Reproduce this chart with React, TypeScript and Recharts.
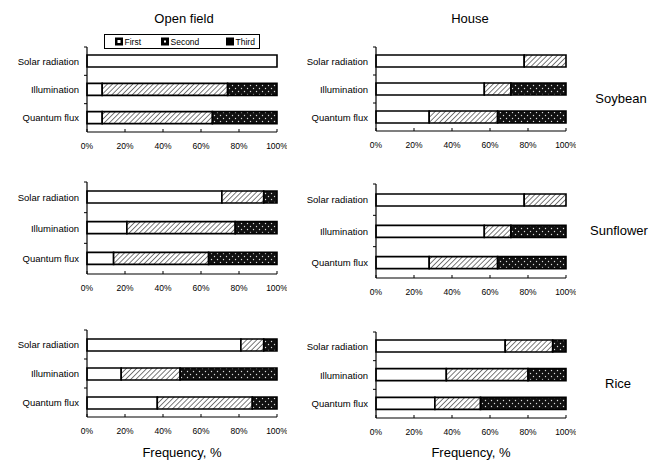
import React from "react";
import { BarChart, Bar, XAxis, YAxis, Legend } from "recharts";

const categories = ["Solar radiation", "Illumination", "Quantum flux"];
const xTicks = [0, 20, 40, 60, 80, 100];
const seriesNames = ["First", "Second", "Third"];

const soybeanOpenFirst = [100, 8, 8];
const soybeanOpenSecond = [0, 66, 58];
const soybeanOpenThird = [0, 26, 34];

const soybeanHouseFirst = [78, 57, 28];
const soybeanHouseSecond = [22, 14, 36];
const soybeanHouseThird = [0, 29, 36];

const sunflowerOpenFirst = [71, 21, 14];
const sunflowerOpenSecond = [22, 57, 50];
const sunflowerOpenThird = [7, 22, 36];

const sunflowerHouseFirst = [78, 57, 28];
const sunflowerHouseSecond = [22, 14, 36];
const sunflowerHouseThird = [0, 29, 36];

const riceOpenFirst = [81, 18, 37];
const riceOpenSecond = [12, 31, 50];
const riceOpenThird = [7, 51, 13];

const riceHouseFirst = [68, 37, 31];
const riceHouseSecond = [25, 43, 24];
const riceHouseThird = [7, 20, 45];

const FONT = "'Liberation Sans', Arial, sans-serif";

const build = (first: number[], second: number[], third: number[]) =>
  categories.map((name, i) => ({
    name,
    first: first[i],
    second: second[i],
    third: third[i],
  }));

function XTick(props: any) {
  const { x, y, payload } = props;
  return (
    <g>
      <line x1={x} x2={x} y1={y} y2={y - 3} stroke="#000" strokeWidth={1} />
      <text
        x={x}
        y={y + 13.5}
        textAnchor="middle"
        dominantBaseline="central"
        fontSize={8.5}
        fontFamily={FONT}
        fill="#000"
      >
        {payload.value}%
      </text>
    </g>
  );
}

function CatTick(props: any) {
  const { x, y, payload, band } = props;
  const ax = x + 8;
  return (
    <g>
      <line x1={ax} x2={ax - 3} y1={y - band / 2} y2={y - band / 2} stroke="#000" strokeWidth={1} />
      <text
        x={x}
        y={y}
        textAnchor="end"
        dominantBaseline="central"
        fontSize={9.5}
        fontFamily={FONT}
        fill="#000"
      >
        {payload.value}
      </text>
    </g>
  );
}

function LegendIcon({ kind }: { kind: string }) {
  if (kind === "first")
    return (
      <g>
        <rect x={0} y={0} width={8} height={8} fill="#000" />
        <rect x={2.5} y={2.5} width={3} height={3} fill="#fff" />
      </g>
    );
  if (kind === "second")
    return (
      <g>
        <rect x={0} y={0} width={8} height={8} fill="#000" />
        <rect x={3} y={3} width={2} height={2} fill="#fff" />
      </g>
    );
  return <rect x={0} y={0} width={8} height={8} fill="#000" />;
}

function renderLegend(props: any) {
  const { payload } = props;
  const offsets = [11, 57, 122];
  return (
    <svg width={156} height={15} style={{ display: "block" }}>
      <rect x={0.5} y={0.5} width={155} height={14} fill="#fff" stroke="#000" strokeWidth={1} />
      {(payload || []).map((entry: any, i: number) => (
        <g key={entry.value} transform={`translate(${offsets[i]},3.5)`}>
          <LegendIcon kind={entry.dataKey} />
          <text x={9.5} y={4.5} dominantBaseline="central" fontSize={8.5} fontFamily={FONT} fill="#000">
            {entry.value}
          </text>
        </g>
      ))}
    </svg>
  );
}

type PanelProps = {
  data: any[];
  left: number;
  top: number;
  bottom: number;
  legend?: boolean;
};

function Panel({ data, left, top, bottom, legend }: PanelProps) {
  const mTop = 14;
  const plotH = bottom - top;
  const band = plotH / 3;
  const height = mTop + plotH + 26;
  const chartTop = top - mTop;
  return (
    <div style={{ position: "absolute", left, top: chartTop }}>
      <BarChart
        width={287}
        height={height}
        data={data}
        layout="vertical"
        margin={{ top: mTop, right: 10, left: 0, bottom: 0 }}
        barSize={12}
      >
        <XAxis
          type="number"
          domain={[0, 100]}
          ticks={xTicks}
          height={26}
          tickLine={false}
          tickSize={0}
          tickMargin={0}
          axisLine={{ stroke: "#000", strokeWidth: 1.2 }}
          tick={<XTick />}
          interval={0}
        />
        <YAxis
          type="category"
          dataKey="name"
          width={87}
          tickLine={false}
          tickSize={0}
          tickMargin={8}
          axisLine={{ stroke: "#000", strokeWidth: 1.2 }}
          tick={<CatTick band={band} />}
          interval={0}
        />
        {legend && (
          <Legend
            layout="horizontal"
            verticalAlign="middle"
            content={renderLegend}
            wrapperStyle={{ left: 104, top: 34 - chartTop, width: 156, height: 15 }}
          />
        )}
        <Bar dataKey="first" name={seriesNames[0]} stackId="s" fill="#fff" stroke="#000" strokeWidth={1.6} isAnimationActive={false} />
        <Bar dataKey="second" name={seriesNames[1]} stackId="s" fill="url(#hatch)" stroke="#000" strokeWidth={1.6} isAnimationActive={false} />
        <Bar dataKey="third" name={seriesNames[2]} stackId="s" fill="url(#dots)" stroke="#000" strokeWidth={1.6} isAnimationActive={false} />
      </BarChart>
    </div>
  );
}

function Label({ x, y, size, children }: { x: number; y: number; size: number; children: React.ReactNode }) {
  return (
    <div
      style={{
        position: "absolute",
        left: x,
        top: y,
        transform: "translate(-50%, -50%)",
        fontSize: size,
        fontFamily: FONT,
        whiteSpace: "nowrap",
        color: "#000",
      }}
    >
      {children}
    </div>
  );
}

export default function App() {
  return (
    <div
      style={{
        position: "absolute",
        left: 0,
        top: 0,
        width: 661,
        height: 462,
        background: "#fff",
        overflow: "hidden",
      }}
    >
      <svg width={0} height={0} style={{ position: "absolute" }}>
        <defs>
          <pattern id="hatch" width={3.6} height={3.6} patternUnits="userSpaceOnUse" patternTransform="rotate(45)">
            <rect width={3.6} height={3.6} fill="#fff" />
            <line x1={0} y1={0} x2={0} y2={3.6} stroke="#333" strokeWidth={1.3} />
          </pattern>
          <pattern id="dots" width={6} height={6} patternUnits="userSpaceOnUse">
            <rect width={6} height={6} fill="#111" />
            <circle cx={1.5} cy={1.5} r={0.7} fill="#ddd" />
            <circle cx={4.5} cy={4.5} r={0.7} fill="#ddd" />
          </pattern>
        </defs>
      </svg>

      <Label x={184} y={18} size={13}>Open field</Label>
      <Label x={470} y={18} size={13}>House</Label>

      <Panel data={build(soybeanOpenFirst, soybeanOpenSecond, soybeanOpenThird)} left={0} top={47} bottom={132} legend />
      <Panel data={build(soybeanHouseFirst, soybeanHouseSecond, soybeanHouseThird)} left={289} top={47} bottom={131} />

      <Panel data={build(sunflowerOpenFirst, sunflowerOpenSecond, sunflowerOpenThird)} left={0} top={182} bottom={274} />
      <Panel data={build(sunflowerHouseFirst, sunflowerHouseSecond, sunflowerHouseThird)} left={289} top={184} bottom={278} />

      <Panel data={build(riceOpenFirst, riceOpenSecond, riceOpenThird)} left={0} top={330} bottom={417} />
      <Panel data={build(riceHouseFirst, riceHouseSecond, riceHouseThird)} left={289} top={332} bottom={418} />

      <Label x={621} y={98} size={13}>Soybean</Label>
      <Label x={619} y={230} size={13}>Sunflower</Label>
      <Label x={618} y={383} size={13}>Rice</Label>

      <Label x={182} y={452} size={13}>Frequency, %</Label>
      <Label x={471} y={452} size={13}>Frequency, %</Label>
    </div>
  );
}
